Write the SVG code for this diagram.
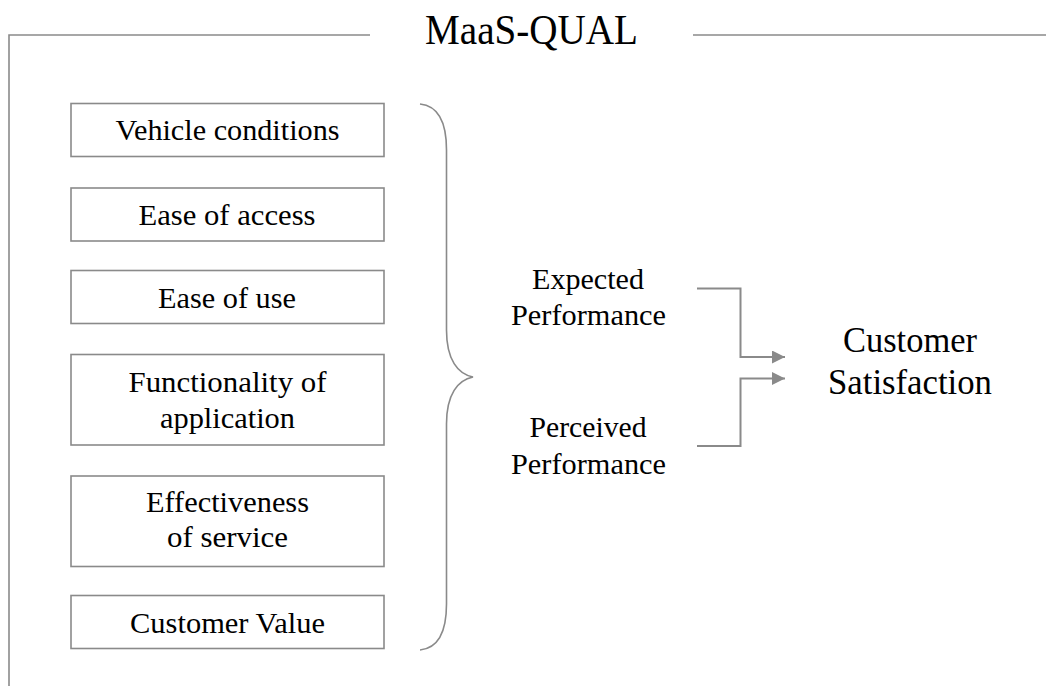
<svg xmlns="http://www.w3.org/2000/svg" width="1046" height="686" viewBox="0 0 1046 686">
<style>
.frame{fill:none;stroke:#8a8a8a;stroke-width:1.6}
.box{fill:#fff;stroke:#8a8a8a;stroke-width:1.6}
.t{font-family:"Liberation Serif","Times New Roman",serif;fill:#000;text-anchor:middle}
.bt{font-size:30px}
.mt{font-size:29px}
.conn{fill:none;stroke:#8a8a8a;stroke-width:2}
</style>
<defs>
<marker id="arr" viewBox="0 0 13 13" refX="13" refY="6.5" markerWidth="13" markerHeight="13" markerUnits="userSpaceOnUse" orient="auto">
<path d="M0,0 L13,6.5 L0,13 Z" fill="#8a8a8a"/>
</marker>
</defs>
<rect width="1046" height="686" fill="#fff"/>
<g id="frame">
<path class="frame" d="M9,686 L9,35 L370,35 M693,35 L1046,35"/>
<text class="t" x="531.5" y="43.5" font-size="42" textLength="213" lengthAdjust="spacingAndGlyphs">MaaS-QUAL</text>
</g>
<g id="n1"><rect class="box" x="71" y="103.5" width="313" height="53"/><text class="t bt" x="227.5" y="140" textLength="224" lengthAdjust="spacingAndGlyphs">Vehicle conditions</text></g>
<g id="n2"><rect class="box" x="71" y="188" width="313" height="53"/><text class="t bt" x="227" y="225" textLength="177" lengthAdjust="spacingAndGlyphs">Ease of access</text></g>
<g id="n3"><rect class="box" x="71" y="270.5" width="313" height="53"/><text class="t bt" x="227" y="308" textLength="138" lengthAdjust="spacingAndGlyphs">Ease of use</text></g>
<g id="n4"><rect class="box" x="71" y="354.5" width="313" height="90.5"/><text class="t bt" x="227.5" y="391.5" textLength="198" lengthAdjust="spacingAndGlyphs">Functionality of</text><text class="t bt" x="227.5" y="428" textLength="135" lengthAdjust="spacingAndGlyphs">application</text></g>
<g id="n5"><rect class="box" x="71" y="476" width="313" height="90.5"/><text class="t bt" x="227.5" y="511.5" textLength="163" lengthAdjust="spacingAndGlyphs">Effectiveness</text><text class="t bt" x="227.5" y="546.5" textLength="121" lengthAdjust="spacingAndGlyphs">of service</text></g>
<g id="n6"><rect class="box" x="71" y="595.5" width="313" height="53"/><text class="t bt" x="227.5" y="632.5" textLength="195" lengthAdjust="spacingAndGlyphs">Customer Value</text></g>
<g id="brace"><path class="frame" d="M420,104 C440,106 446.5,125 446.5,150 L446.5,330 C446.5,360 458,374 473,377 C458,380 446.5,394 446.5,424 L446.5,604 C446.5,630 440,648 420,650"/></g>
<g id="expected"><text class="t mt" x="588" y="288.5" textLength="112" lengthAdjust="spacingAndGlyphs">Expected</text><text class="t mt" x="588.5" y="325" textLength="155" lengthAdjust="spacingAndGlyphs">Performance</text></g>
<g id="perceived"><text class="t mt" x="588" y="436.5" textLength="117" lengthAdjust="spacingAndGlyphs">Perceived</text><text class="t mt" x="588.5" y="473.5" textLength="155" lengthAdjust="spacingAndGlyphs">Performance</text></g>
<g id="satisfaction"><text class="t" x="910" y="351.5" font-size="35" textLength="134" lengthAdjust="spacingAndGlyphs">Customer</text><text class="t" x="910" y="393.5" font-size="35" textLength="164" lengthAdjust="spacingAndGlyphs">Satisfaction</text></g>
<g id="connectors">
<path class="conn" d="M697,288.5 L740.5,288.5 L740.5,357 L785,357" marker-end="url(#arr)"/>
<path class="conn" d="M697,446 L740.5,446 L740.5,378.5 L785,378.5" marker-end="url(#arr)"/>
</g>
</svg>
